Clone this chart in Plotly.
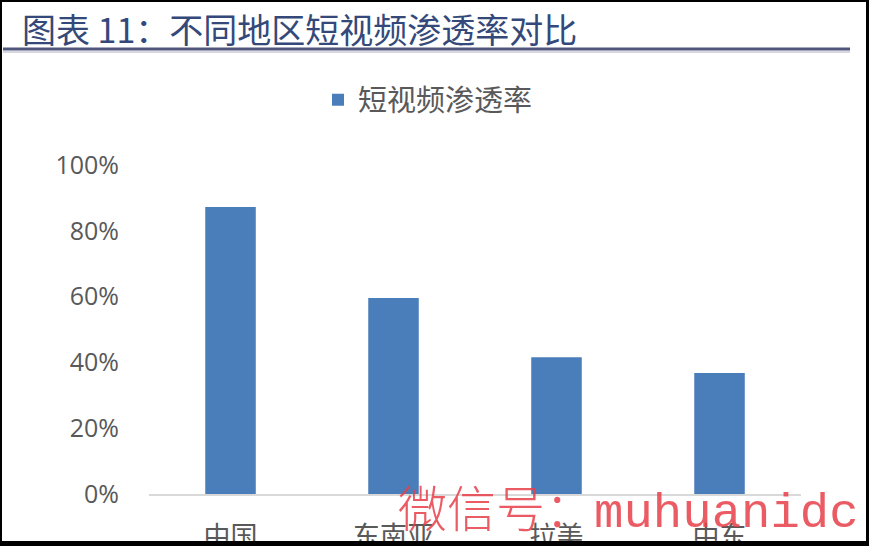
import plotly.graph_objects as go

categories = ["中国", "东南亚", "拉美", "中东"]
penetration = [0.872, 0.596, 0.416, 0.368]
series_name = "短视频渗透率"
y_ticks = [0, 0.2, 0.4, 0.6, 0.8, 1.0]
y_tick_labels = ["0%", "20%", "40%", "60%", "80%", "100%"]
title_text = "图表 11：不同地区短视频渗透率对比"
watermark_cn = "微信号："
watermark_en = "muhuanidc"

W, H = 869, 546
L, R, T, B = 149, 801, 165, 494


def px(xp):
    return (xp - L) / (R - L)


def py(yp):
    return (B - yp) / (B - T)


fig = go.Figure()
fig.add_trace(go.Bar(
    x=categories, y=penetration, name=series_name,
    marker=dict(color="#4a7ebb", line=dict(width=0)),
    width=0.31, showlegend=True,
))

fig.update_layout(
    width=W, height=H, autosize=False,
    margin=dict(l=L, r=W - R, t=T, b=H - B, pad=0, autoexpand=False),
    paper_bgcolor="white", plot_bgcolor="white",
    font=dict(family="Noto Sans CJK SC, Open Sans, sans-serif", color="#595959"),
    showlegend=True,
    legend=dict(
        orientation="h", x=px(318), y=py(100), xanchor="left", yanchor="middle",
        font=dict(size=29, color="#595959"), bgcolor="rgba(0,0,0,0)",
        itemwidth=30,
    ),
    xaxis=dict(
        range=[-0.5, 3.5], showline=True, linecolor="#d9d9d9", linewidth=1.5,
        showgrid=False, zeroline=False, ticks="", automargin=False,
        tickfont=dict(size=27, color="#595959"), ticklabelstandoff=18,
        fixedrange=True,
    ),
    yaxis=dict(
        range=[0, 1.0], tickvals=y_ticks, ticktext=y_tick_labels,
        showgrid=False, zeroline=False, showline=False, ticks="", automargin=False,
        tickfont=dict(size=25, color="#595959", family="Open Sans, Noto Sans, sans-serif"),
        ticklabelstandoff=29,
    ),
)

shapes = []
# title underline
shapes.append(dict(type="line", xref="paper", yref="paper",
                   x0=px(3), x1=px(850), y0=py(49), y1=py(49),
                   line=dict(color="#50557d", width=3), layer="above"))
shapes.append(dict(type="line", xref="paper", yref="paper",
                   x0=px(3), x1=px(850), y0=py(52), y1=py(52),
                   line=dict(color="#c9cad6", width=1.5), layer="above"))
# black frame
for x0, x1, y0, y1 in [(0, 2, 0, H), (866, W, 0, H), (0, W, 0, 2), (0, W, 541, H)]:
    shapes.append(dict(type="rect", xref="paper", yref="paper",
                       x0=px(x0), x1=px(x1), y0=py(y0), y1=py(y1),
                       fillcolor="black", line=dict(width=0), layer="above"))
fig.update_layout(shapes=shapes)

fig.add_annotation(
    text=title_text, xref="paper", yref="paper",
    x=px(20), y=py(28), xanchor="left", yanchor="middle", showarrow=False,
    font=dict(size=34, color="#34497a", family="Noto Sans CJK SC, sans-serif"),
)
fig.add_annotation(
    text=watermark_cn + "<span style='font-family:Liberation Mono, DejaVu Sans Mono, monospace'>" + watermark_en + "</span>",
    xref="paper", yref="paper",
    x=px(396), y=py(506), xanchor="left", yanchor="middle", showarrow=False,
    font=dict(size=49, color="rgba(232,62,72,0.85)", family="Noto Sans CJK SC, sans-serif", weight=300),
)

fig.write_html(
    "out.html",
    config={"displayModeBar": False},
    post_script="document.body.style.margin='0';document.body.style.overflow='hidden';",
)
